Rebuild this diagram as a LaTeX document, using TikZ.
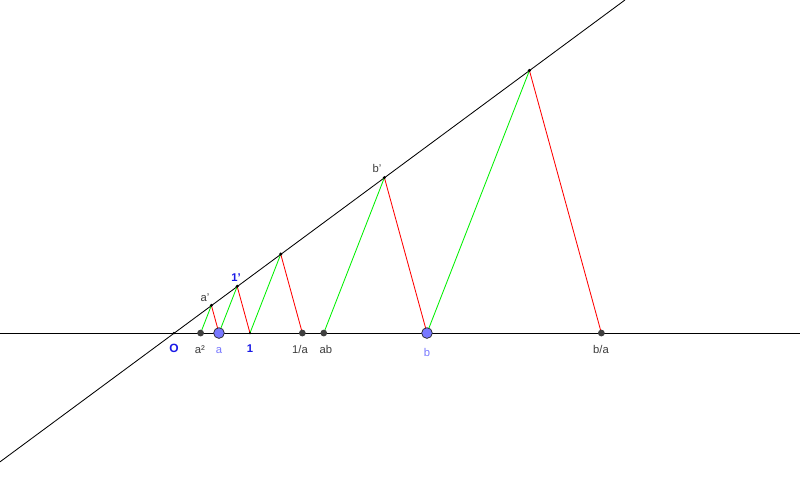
\documentclass[tikz,border=0pt]{standalone}
\usepackage{fontspec}
\setmainfont{Liberation Sans}
\usetikzlibrary{calc}
\definecolor{ptblue}{RGB}{120,120,255}
\definecolor{lblblue}{RGB}{25,25,230}
\definecolor{lblgray}{RGB}{60,60,60}
\definecolor{seggreen}{RGB}{0,240,0}
\definecolor{segred}{RGB}{255,0,0}
\tikzstyle{pt} = [circle, fill=black!75, inner sep=0pt, minimum size=4.8pt]
\tikzstyle{freept} = [circle, draw=black!85, line width=0.5pt, fill=ptblue, inner sep=0pt, minimum size=7.6pt]
\tikzstyle{dot} = [circle, fill=black, inner sep=0pt, minimum size=2.4pt]
\tikzstyle{lbl} = [inner sep=0pt, anchor=base, text=lblgray, font=\fontsize{8}{9.6}\selectfont]
\tikzstyle{green} = [seggreen, line width=0.6pt]
\tikzstyle{red} = [segred, line width=0.6pt]

\begin{document}
\begin{tikzpicture}[x=1.9cm, y=1.9cm, line width=0.6pt]
		\useasboundingbox (-2.289,-2.237) rectangle (8.237,4.382);
		\pgfmathsetmacro{\a}{0.592}
		\pgfmathsetmacro{\b}{3.329}
		% axis and oblique line
		\coordinate (O) at (0,0);
		\coordinate (xl) at (-2.289,0);
		\coordinate (xr) at (8.237,0);
		\coordinate (dl) at (-2.289,-1.695);
		\coordinate (dr) at (5.934,4.382);
		\draw (xl) -- (xr);
		\draw (dl) -- (dr);
		% points on the axis
		\coordinate (a2) at ({\a*\a},0);
		\coordinate (a) at (\a,0);
		\coordinate (one) at (1,0);
		\coordinate (inva) at ({1/\a},0);
		\coordinate (ab) at ({\a*\b},0);
		\coordinate (b) at (\b,0);
		\coordinate (bdiva) at ({\b/\a},0);
		% points on the line
		\coordinate (ap) at (36.45:{\a*1.034});
		\coordinate (onep) at (36.45:1.034);
		\coordinate (invap) at (36.45:{1.034/\a});
		\coordinate (bp) at (36.45:{\b*1.034});
		\coordinate (bdivap) at (36.45:{\b*1.034/\a});

		\draw [green] (a2) -- (ap);
		\draw [red] (ap) -- (a);
		\draw [green] (a) -- (onep);
		\draw [red] (onep) -- (one);
		\draw [green] (one) -- (invap);
		\draw [red] (invap) -- (inva);
		\draw [green] (ab) -- (bp);
		\draw [red] (bp) -- (b);
		\draw [green] (b) -- (bdivap);
		\draw [red] (bdivap) -- (bdiva);

		\node (nO) [dot, minimum size=1.8pt] at (O) {};
		\node (none) [dot, minimum size=1.8pt] at (one) {};
		\node (na2) [pt] at (a2) {};
		\node (ninva) [pt] at (inva) {};
		\node (nab) [pt] at (ab) {};
		\node (nbdiva) [pt] at (bdiva) {};
		\node (na) [freept] at (a) {};
		\node (nb) [freept] at (b) {};
		\node (nap) [dot] at (ap) {};
		\node (nonep) [dot] at (onep) {};
		\node (ninvap) [dot] at (invap) {};
		\node (nbp) [dot] at (bp) {};
		\node (nbdivap) [dot] at (bdivap) {};

		% labels
		\node (lO) [lbl, text=lblblue, font=\fontsize{8.5}{10}\selectfont\bfseries] at (0,-0.25) {O};
		\node (la2) [lbl] at (0.342,-0.263) {a²};
		\node (la) [lbl, text=ptblue] at (0.592,-0.263) {a};
		\node (lone) [lbl, text=lblblue, font=\fontsize{8}{9.6}\selectfont\bfseries] at (1.0,-0.25) {1};
		\node (linva) [lbl] at (1.658,-0.263) {1/a};
		\node (lab) [lbl] at (2.0,-0.263) {ab};
		\node (lb) [lbl, text=ptblue] at (3.329,-0.303) {b};
		\node (lbdiva) [lbl] at (5.618,-0.263) {b/a};
		\node (lap) [lbl] at (0.408,0.421) {a'};
		\node (lonep) [lbl, text=lblblue, font=\fontsize{8}{9.6}\selectfont\bfseries] at (0.816,0.684) {1'};
		\node (lbp) [lbl] at (2.671,2.118) {b'};
	  \end{tikzpicture}
\end{document}
